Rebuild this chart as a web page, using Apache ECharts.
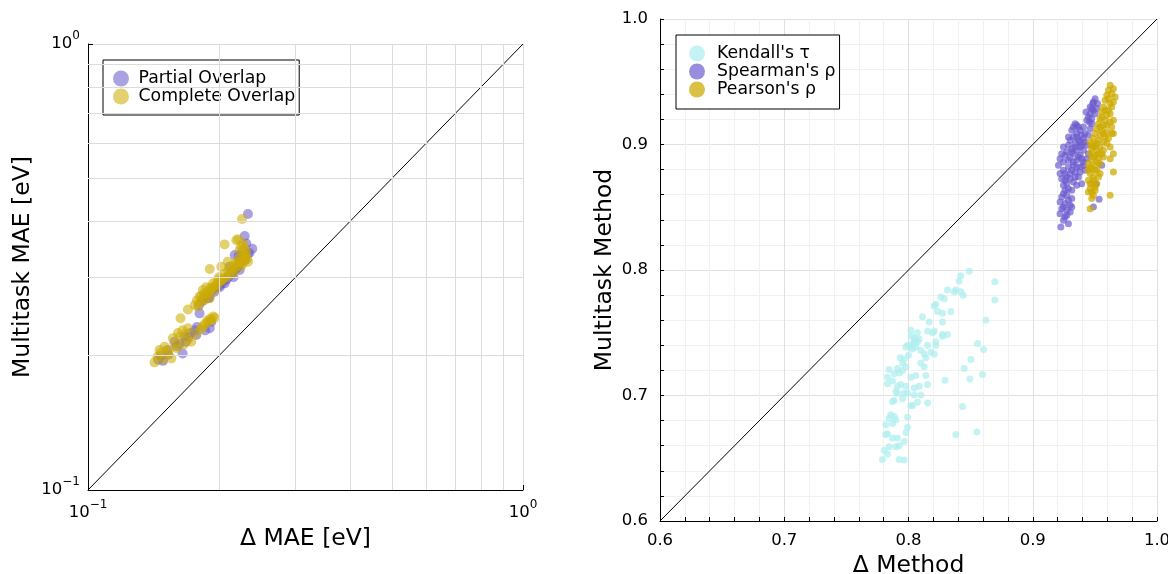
<!DOCTYPE html>
<html>
<head>
<meta charset="utf-8">
<script src="https://cdn.jsdelivr.net/npm/echarts@6/dist/echarts.min.js"></script>
<style>
  html, body { margin: 0; padding: 0; background: #fff; }
  #chart { width: 1168px; height: 574px; }
</style>
</head>
<body>
<div id="chart"></div>
<script>
// ---- Left panel: MAE of the Δ-learning model vs the multitask model (log-log) ----
const partialOverlap = [
  [0.2332,0.4158],[0.2292,0.3711],[0.2386,0.3475],[0.2312,0.3570],[0.2332,0.3390],[0.2174,0.3364],
  [0.2116,0.3168],[0.2155,0.3086],[0.1805,0.2489],[0.1905,0.2304],[0.1860,0.2280],[0.1774,0.2226],
  [0.1650,0.2024],[0.1624,0.2126],[0.1487,0.1948],[0.1522,0.2061],[0.1669,0.2207],[0.1887,0.2693],
  [0.2008,0.2848],[0.2062,0.2906],[0.2232,0.3113],[0.1450,0.1960],[0.1470,0.2000],[0.1530,0.2010],
  [0.1580,0.2150],[0.1600,0.2100],[0.1700,0.2200],[0.1720,0.2250],[0.1780,0.2320],[0.1800,0.2600],
  [0.1830,0.2650],[0.1870,0.2750],[0.1900,0.2700],[0.1950,0.2780],[0.1970,0.2850],[0.2000,0.2870],
  [0.2030,0.2900],[0.2050,0.2950],[0.2080,0.2960],[0.2100,0.3000],[0.2130,0.3050],[0.2160,0.3000],
  [0.2180,0.3120],[0.2200,0.3150],[0.2220,0.3200],[0.2250,0.3250],[0.2280,0.3300],[0.2300,0.3280],
  [0.2260,0.3420],[0.2350,0.3400],[0.2220,0.3350],[0.1930,0.2800],[0.1850,0.2700],[0.1760,0.2280],
  [0.1680,0.2150],[0.1920,0.2380]
];
const completeOverlap = [
  [0.1422,0.1933],[0.1500,0.2095],[0.1522,0.2024],[0.1555,0.1973],[0.1567,0.2188],[0.1624,0.2207],
  [0.1697,0.2304],[0.1727,0.2151],[0.1774,0.2245],[0.1837,0.2324],[0.1887,0.2384],[0.1920,0.2400],
  [0.1955,0.2434],[0.1790,0.2576],[0.1805,0.2714],[0.1837,0.2808],[0.1905,0.2830],[0.1939,0.2906],
  [0.1992,0.2957],[0.2046,0.2980],[0.2116,0.3034],[0.2174,0.3113],[0.2193,0.3168],[0.2232,0.3251],
  [0.2292,0.3308],[0.2332,0.3251],[0.2232,0.3453],[0.2272,0.3570],[0.2212,0.3648],[0.2193,0.3630],
  [0.2312,0.3420],[0.2096,0.3251],[0.2025,0.3168],[0.2008,0.2930],[0.1955,0.2808],[0.1887,0.2760],
  [0.1856,0.2668],[0.1821,0.2645],[0.1905,0.2693],[0.2260,0.4050],[0.1905,0.3130],[0.2060,0.3554],
  [0.1697,0.2540],[0.1632,0.2426],[0.1445,0.1990],[0.1470,0.2030],[0.1488,0.1960],[0.1535,0.2060],
  [0.1460,0.2060],[0.1590,0.2120],[0.1610,0.2250],[0.1650,0.2280],[0.1680,0.2240],[0.1660,0.2120],
  [0.1700,0.2180],[0.1600,0.2080],[0.1760,0.2600],[0.1780,0.2660],[0.1820,0.2720],[0.1850,0.2760],
  [0.1870,0.2850],[0.1900,0.2780],[0.1930,0.2840],[0.1960,0.2880],[0.1980,0.2870],[0.2000,0.3000],
  [0.2030,0.2950],[0.2060,0.3050],[0.2080,0.3000],[0.2100,0.3100],[0.2130,0.3150],[0.2150,0.3060],
  [0.2160,0.3200],[0.2200,0.3230],[0.2220,0.3300],[0.2250,0.3180],[0.2270,0.3380],[0.2300,0.3350],
  [0.2290,0.3480],[0.2250,0.3520],[0.2320,0.3300],[0.2270,0.3220],[0.1850,0.2350],[0.1880,0.2400],
  [0.1910,0.2420],[0.1940,0.2450],[0.1820,0.2300]
];
const maeLimits = [0.1, 1];
const maeMinorGrid = [0.2, 0.3, 0.4, 0.5, 0.6, 0.7, 0.8, 0.9];

// ---- Right panel: correlation coefficients, Δ method vs multitask method ----
const kendallTau = [
  [0.8489,0.7991],[0.8421,0.7955],[0.8408,0.7912],[0.8695,0.7906],[0.8695,0.7761],
  [0.8368,0.7827],[0.8381,0.7841],[0.8421,0.7827],[0.8440,0.7798],[0.8314,0.7841],
  [0.8260,0.7784],[0.8287,0.7770],[0.8207,0.7713],[0.8220,0.7727],[0.8234,0.7670],
  [0.8274,0.7656],[0.8341,0.7670],[0.8113,0.7628],[0.8166,0.7585],[0.8153,0.7514],
  [0.8193,0.7500],[0.8274,0.7585],[0.8207,0.7514],[0.8623,0.7599],[0.8019,0.7520],
  [0.8024,0.7472],[0.8046,0.7457],[0.8072,0.7429],[0.7992,0.7401],[0.7979,0.7386],
  [0.8019,0.7386],[0.8059,0.7386],[0.8032,0.7415],[0.8072,0.7500],[0.8153,0.7401],
  [0.8220,0.7429],[0.8220,0.7401],[0.8180,0.7344],[0.8207,0.7330],[0.8274,0.7472],
  [0.8274,0.7486],[0.8314,0.7486],[0.8556,0.7415],[0.8604,0.7366],[0.8502,0.7287],
  [0.8448,0.7216],[0.8494,0.7131],[0.8596,0.7168],[0.8293,0.7122],[0.8126,0.7330],
  [0.8140,0.7301],[0.8099,0.7259],[0.8126,0.7230],[0.8140,0.7159],[0.8153,0.7088],
  [0.8086,0.7074],[0.8046,0.7060],[0.7933,0.7301],[0.7952,0.7259],[0.7911,0.7216],
  [0.7844,0.7207],[0.7885,0.7173],[0.7831,0.7145],[0.7871,0.7116],[0.7938,0.7088],
  [0.7911,0.7074],[0.7831,0.7094],[0.7979,0.7074],[0.8019,0.7145],[0.8059,0.7159],
  [0.7898,0.7031],[0.7965,0.7017],[0.7911,0.7017],[0.7992,0.7017],[0.8046,0.7003],
  [0.8099,0.7003],[0.8153,0.6940],[0.8072,0.6946],[0.8019,0.6918],[0.8032,0.6923],
  [0.7885,0.6960],[0.7871,0.6952],[0.7952,0.6974],[0.8435,0.6912],[0.8381,0.6690],
  [0.8550,0.6710],[0.7858,0.6847],[0.7885,0.6832],[0.7844,0.6818],[0.7898,0.6804],
  [0.7871,0.6776],[0.7817,0.6767],[0.7992,0.6827],[0.7992,0.6747],[0.7817,0.6690],
  [0.7831,0.6696],[0.7871,0.6662],[0.7911,0.6662],[0.7979,0.6705],[0.7965,0.6634],
  [0.7925,0.6599],[0.7898,0.6591],[0.7844,0.6591],[0.7804,0.6563],[0.7831,0.6534],
  [0.7791,0.6491],[0.7925,0.6491],[0.7965,0.6486],[0.8046,0.7415],[0.8059,0.7440],
  [0.8086,0.7450],[0.8032,0.7370],[0.8099,0.7360],[0.7965,0.7290],[0.8000,0.7320],
  [0.7952,0.7200],[0.7925,0.7180],[0.7980,0.7230]
];
const spearmanRho = [
  [0.9502,0.9365],[0.9521,0.9326],[0.9483,0.9326],[0.9475,0.9286],[0.9488,0.9273],[0.9462,0.9246],
  [0.9448,0.9219],[0.9475,0.9206],[0.9435,0.9193],[0.9456,0.9180],[0.9429,0.9259],[0.9341,0.9166],
  [0.9368,0.9140],[0.9381,0.9113],[0.9314,0.9113],[0.9354,0.9087],[0.9394,0.9073],[0.9327,0.9060],
  [0.9408,0.9047],[0.9368,0.9033],[0.9301,0.9033],[0.9421,0.9020],[0.9341,0.9007],[0.9287,0.8994],
  [0.9381,0.8980],[0.9435,0.8994],[0.9314,0.8967],[0.9354,0.8954],[0.9408,0.8954],[0.9274,0.8941],
  [0.9327,0.8927],[0.9260,0.8914],[0.9381,0.8914],[0.9448,0.8927],[0.9301,0.8895],[0.9220,0.8887],
  [0.9354,0.8874],[0.9247,0.8861],[0.9207,0.8834],[0.9408,0.8861],[0.9327,0.8834],[0.9287,0.8821],
  [0.9381,0.8821],[0.9247,0.8794],[0.9341,0.8781],[0.9301,0.8768],[0.9421,0.8794],[0.9274,0.8741],
  [0.9368,0.8741],[0.9260,0.8715],[0.9327,0.8701],[0.9394,0.8688],[0.9247,0.8675],[0.9287,0.8648],
  [0.9247,0.8608],[0.9274,0.8595],[0.9233,0.8582],[0.9314,0.8569],[0.9220,0.8542],[0.9260,0.8529],
  [0.9301,0.8515],[0.9233,0.8489],[0.9274,0.8476],[0.9314,0.8502],[0.9220,0.8449],[0.9260,0.8423],
  [0.9287,0.8369],[0.9226,0.8343],[0.9247,0.8396],[0.9534,0.8563],[0.9488,0.8502],[0.9510,0.8688],
  [0.9555,0.8834],[0.9354,0.9060],[0.9381,0.9020],[0.9341,0.8980],[0.9314,0.8941],[0.9368,0.8901],
  [0.9287,0.8874],[0.9327,0.8861],[0.9394,0.8887],[0.9354,0.8821],[0.9314,0.8794],[0.9260,0.8768],
  [0.9381,0.8781],[0.9341,0.8741],[0.9301,0.8728],[0.9274,0.8688],[0.9354,0.8675],[0.9314,0.8635],
  [0.9260,0.8635],[0.9287,0.8555],[0.9247,0.8502],[0.9301,0.8462],[0.9274,0.8436],[0.9421,0.9087],
  [0.9408,0.9140],[0.9462,0.9126],[0.9448,0.9073],[0.9394,0.8994],[0.9435,0.8887],[0.9408,0.8834],
  [0.9354,0.9153],[0.9475,0.9166],[0.9502,0.9246],[0.9515,0.9286],[0.9462,0.9299],[0.9488,0.9339],
  [0.9327,0.9140],[0.9287,0.9060],[0.9247,0.8980],[0.9233,0.8927],[0.9220,0.8768],[0.9233,0.8728]
];
const pearsonRho = [
  [0.9623,0.9472],[0.9649,0.9445],[0.9609,0.9432],[0.9663,0.9379],[0.9596,0.9392],[0.9582,0.9352],
  [0.9623,0.9326],[0.9569,0.9299],[0.9609,0.9273],[0.9555,0.9259],[0.9596,0.9233],[0.9542,0.9206],
  [0.9582,0.9193],[0.9623,0.9180],[0.9649,0.9193],[0.9529,0.9166],[0.9569,0.9153],[0.9515,0.9126],
  [0.9555,0.9113],[0.9596,0.9100],[0.9636,0.9087],[0.9502,0.9087],[0.9542,0.9073],[0.9582,0.9060],
  [0.9488,0.9047],[0.9529,0.9033],[0.9462,0.9020],[0.9569,0.9020],[0.9502,0.8994],[0.9542,0.8980],
  [0.9475,0.8967],[0.9515,0.8954],[0.9623,0.8980],[0.9555,0.8927],[0.9462,0.8927],[0.9502,0.8914],
  [0.9529,0.8887],[0.9475,0.8874],[0.9623,0.8887],[0.9448,0.8847],[0.9502,0.8834],[0.9542,0.8847],
  [0.9475,0.8808],[0.9515,0.8794],[0.9462,0.8768],[0.9488,0.8741],[0.9448,0.8715],[0.9475,0.8688],
  [0.9462,0.8648],[0.9502,0.8635],[0.9475,0.8621],[0.9623,0.8595],[0.9649,0.8781],[0.9649,0.9087],
  [0.9462,0.8489],[0.9636,0.9405],[0.9609,0.9365],[0.9636,0.9299],[0.9582,0.9273],[0.9555,0.9219],
  [0.9596,0.9153],[0.9542,0.9140],[0.9569,0.9087],[0.9609,0.9047],[0.9515,0.9007],[0.9596,0.9007],
  [0.9488,0.8980],[0.9569,0.8954],[0.9529,0.8927],[0.9488,0.8901],[0.9569,0.8901],[0.9515,0.8861],
  [0.9462,0.8821],[0.9502,0.8794],[0.9542,0.8768],[0.9488,0.8715],[0.9515,0.8688],[0.9462,0.8688],
  [0.9502,0.8662],[0.9448,0.8621],[0.9488,0.8595],[0.9475,0.8569],[0.9649,0.8927],[0.9636,0.9140],
  [0.9475,0.8994],[0.9529,0.8741],[0.9448,0.8794],[0.9623,0.9246],[0.9649,0.9339]
];
const corrLimits = [0.6, 1.0];

const FONT = '"DejaVu Sans", "Noto Sans", sans-serif';
const TICK_FONT = 16.5;
const TITLE_FONT = 23.5;
const LEGEND_FONT = 17.3;

const COLORS = {
  partial:  'rgba(106, 90, 205, 0.7)',
  complete: 'rgba(205, 173, 0, 0.7)',
  kendall:  'rgba(175, 238, 238, 0.9)',
  spearman: 'rgba(106, 90, 205, 0.85)',
  pearson:  'rgba(205, 170, 0, 0.92)'
};

// "10^n" tick labels for the log axes
function powerLabel(v) {
  const e = Math.round(Math.log10(v));
  return '{b|10}{s|' + (e < 0 ? '\u2212' + (-e) : e) + '}';
}
const powerRich = {
  b: { fontSize: TICK_FONT, fontFamily: FONT, color: '#000' },
  s: { fontSize: 12, fontFamily: FONT, color: '#000', padding: [0, 0, 16, 0] }
};

function logAxis(gridIndex, name, nameGap, labelMargin) {
  return {
    type: 'log', logBase: 10, gridIndex,
    min: maeLimits[0], max: maeLimits[1],
    name, nameLocation: 'middle', nameGap,
    nameTextStyle: { fontSize: TITLE_FONT, fontFamily: FONT, color: '#000' },
    axisLine: { show: true, onZero: false, lineStyle: { color: '#000', width: 1 } },
    axisTick: { show: true, inside: true, length: 5, lineStyle: { color: '#000' } },
    axisLabel: { formatter: powerLabel, rich: powerRich, color: '#000', margin: labelMargin },
    splitLine: { show: true, lineStyle: { color: '#dcdcdc', width: 1 } }
  };
}

function linAxis(gridIndex, name, nameGap, labelMargin) {
  return {
    type: 'value', gridIndex,
    min: corrLimits[0], max: corrLimits[1], interval: 0.1,
    name, nameLocation: 'middle', nameGap,
    nameTextStyle: { fontSize: TITLE_FONT, fontFamily: FONT, color: '#000' },
    axisLine: { show: true, onZero: false, lineStyle: { color: '#000', width: 1 } },
    axisTick: { show: true, inside: true, length: 4, lineStyle: { color: '#000' } },
    minorTick: { show: true, splitNumber: 5, length: 4, lineStyle: { color: '#000' } },
    axisLabel: {
      formatter: v => v.toFixed(1), margin: labelMargin,
      fontSize: TICK_FONT, fontFamily: FONT, color: '#000'
    },
    splitLine: { show: true, lineStyle: { color: '#e0e0e0', width: 1 } },
    minorSplitLine: { show: true, lineStyle: { color: '#f1f1f1', width: 1 } }
  };
}

const legendBase = {
  orient: 'vertical',
  icon: 'circle',
  itemHeight: 16,
  itemGap: 1,
  backgroundColor: '#fff',
  borderColor: '#000',
  borderWidth: 1,
  borderRadius: 0,
  textStyle: { fontSize: LEGEND_FONT, fontFamily: FONT, color: '#000', lineHeight: 17 }
};

const chart = echarts.init(document.getElementById('chart'), null, { renderer: 'canvas' });

chart.setOption({
  animation: false,
  backgroundColor: '#fff',
  grid: [
    { left: 88, top: 44, width: 435, height: 446, containLabel: false, outerBoundsMode: 'none' },
    { left: 660, top: 19, width: 497, height: 502, containLabel: false, outerBoundsMode: 'none' }
  ],
  xAxis: [
    logAxis(0, '\u0394 MAE [eV]', 36, 9),
    linAxis(1, '\u0394 Method', 30, 11)
  ],
  yAxis: [
    logAxis(0, 'Multitask MAE [eV]', 53, 8),
    linAxis(1, 'Multitask Method', 43, 12)
  ],
  legend: [
    Object.assign({}, legendBase, {
      data: ['Partial Overlap', 'Complete Overlap'],
      left: 103, top: 60, itemWidth: 25, padding: [10, 4, 10, 10]
    }),
    Object.assign({}, legendBase, {
      data: ["Kendall's \u03c4", "Spearman's \u03c1", "Pearson's \u03c1"],
      left: 676, top: 35, itemWidth: 30, padding: [10, 4, 11, 13]
    })
  ],
  series: [
    {
      name: 'diagonal-mae', type: 'line', xAxisIndex: 0, yAxisIndex: 0,
      data: [[maeLimits[0], maeLimits[0]], [maeLimits[1], maeLimits[1]]],
      symbol: 'none', silent: true, z: 1,
      lineStyle: { color: '#000', width: 1 },
      markLine: {
        silent: true, symbol: 'none', label: { show: false },
        lineStyle: { color: '#dcdcdc', type: 'solid', width: 1 },
        data: maeMinorGrid.map(v => ({ xAxis: v })).concat(maeMinorGrid.map(v => ({ yAxis: v })))
      }
    },
    {
      name: 'Partial Overlap', type: 'scatter', xAxisIndex: 0, yAxisIndex: 0,
      data: partialOverlap, symbolSize: 10, z: 3,
      itemStyle: { color: COLORS.partial }
    },
    {
      name: 'Complete Overlap', type: 'scatter', xAxisIndex: 0, yAxisIndex: 0,
      data: completeOverlap, symbolSize: 10, z: 4,
      itemStyle: { color: COLORS.complete }
    },
    {
      name: 'diagonal-corr', type: 'line', xAxisIndex: 1, yAxisIndex: 1,
      data: [[corrLimits[0], corrLimits[0]], [corrLimits[1], corrLimits[1]]],
      symbol: 'none', silent: true, z: 1,
      lineStyle: { color: '#000', width: 1 }
    },
    {
      name: "Kendall's \u03c4", type: 'scatter', xAxisIndex: 1, yAxisIndex: 1,
      data: kendallTau, symbolSize: 7, z: 3,
      itemStyle: { color: COLORS.kendall }
    },
    {
      name: "Spearman's \u03c1", type: 'scatter', xAxisIndex: 1, yAxisIndex: 1,
      data: spearmanRho, symbolSize: 7, z: 4,
      itemStyle: { color: COLORS.spearman }
    },
    {
      name: "Pearson's \u03c1", type: 'scatter', xAxisIndex: 1, yAxisIndex: 1,
      data: pearsonRho, symbolSize: 7, z: 5,
      itemStyle: { color: COLORS.pearson }
    }
  ]
});
</script>
</body>
</html>
